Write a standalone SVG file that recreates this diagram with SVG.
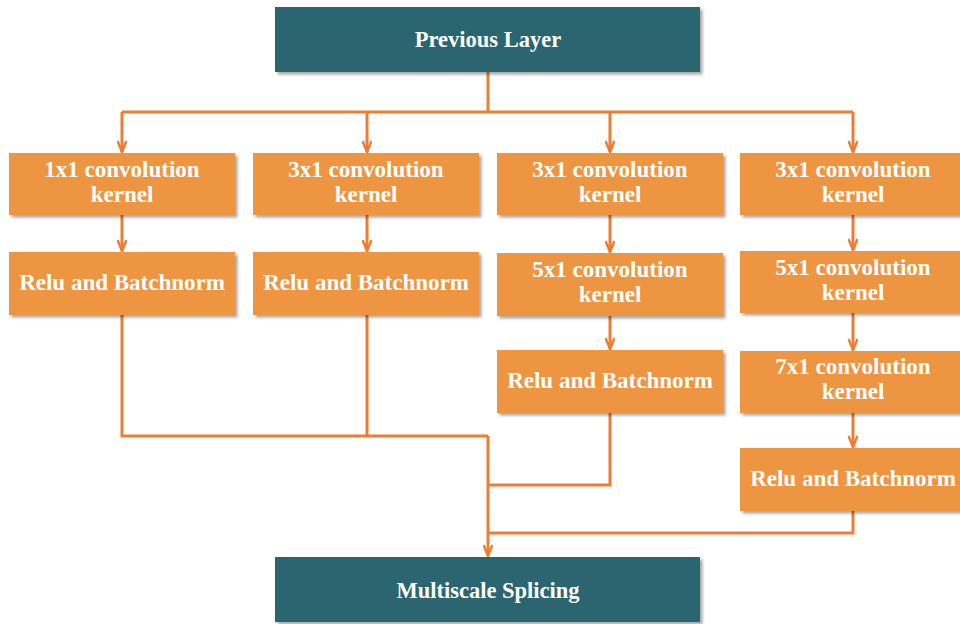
<svg xmlns="http://www.w3.org/2000/svg" width="960" height="624" viewBox="0 0 960 624">
<defs>
<style>
.box{fill:#EE9543;filter:url(#sh)}
.dark{fill:#2B6570;filter:url(#sh)}
.t{font-family:"Liberation Serif","Times New Roman",serif;font-weight:bold;font-size:23px;fill:#fff;text-anchor:middle}
.tl{font-size:22.5px}
.c{fill:none;stroke:#ED7D31;stroke-width:3}
.a{marker-end:url(#ah)}
</style>
<filter id="sh" x="-5%" y="-10%" width="115%" height="130%">
<feDropShadow dx="2.5" dy="2.5" stdDeviation="1.5" flood-color="#000" flood-opacity="0.35"/>
</filter>
<marker id="ah" viewBox="0 0 14 10" refX="12" refY="5" markerWidth="14" markerHeight="10" markerUnits="userSpaceOnUse" orient="auto">
<path d="M1,0.5 L12,5 L1,9.5" fill="none" stroke="#ED7D31" stroke-width="2.5"/>
</marker>
</defs>
<rect width="960" height="624" fill="#fff"/>
<g id="connectors">
<path class="c" d="M488,72 V112 M122,112 H853"/>
<path class="c a" d="M122,112 V152"/>
<path class="c a" d="M367,112 V152"/>
<path class="c a" d="M610,112 V152"/>
<path class="c a" d="M853,112 V152"/>
<path class="c a" d="M122,215 V251"/>
<path class="c a" d="M367,215 V251"/>
<path class="c a" d="M610,215 V252"/>
<path class="c a" d="M853,215 V250"/>
<path class="c a" d="M610,316 V349"/>
<path class="c a" d="M853,313 V350"/>
<path class="c a" d="M853,413 V447"/>
<path class="c" d="M122,315 V436 H488 M367,315 V436"/>
<path class="c" d="M610,413 V485 H488"/>
<path class="c" d="M853,511 V533 H488"/>
<path class="c a" d="M488,436 V556"/>
</g>
<g id="prev">
<rect class="dark" x="275" y="7" width="425" height="65"/>
<text class="t tl" x="488" y="47">Previous Layer</text>
</g>
<g id="c1k">
<rect class="box" x="9" y="153" width="226" height="62"/>
<text class="t" x="122" y="177">1x1 convolution</text>
<text class="t" x="122" y="202">kernel</text>
</g>
<g id="c2k">
<rect class="box" x="253" y="153" width="226" height="62"/>
<text class="t" x="366" y="177">3x1 convolution</text>
<text class="t" x="366" y="202">kernel</text>
</g>
<g id="c3k">
<rect class="box" x="497" y="153" width="226" height="62"/>
<text class="t" x="610" y="177">3x1 convolution</text>
<text class="t" x="610" y="202">kernel</text>
</g>
<g id="c4k">
<rect class="box" x="740" y="153" width="226" height="62"/>
<text class="t" x="853" y="177">3x1 convolution</text>
<text class="t" x="853" y="202">kernel</text>
</g>
<g id="c1r">
<rect class="box" x="9" y="252" width="226" height="63"/>
<text class="t" x="122" y="290">Relu and Batchnorm</text>
</g>
<g id="c2r">
<rect class="box" x="253" y="252" width="226" height="63"/>
<text class="t" x="366" y="290">Relu and Batchnorm</text>
</g>
<g id="c3k5">
<rect class="box" x="497" y="253" width="226" height="63"/>
<text class="t" x="610" y="277">5x1 convolution</text>
<text class="t" x="610" y="302">kernel</text>
</g>
<g id="c4k5">
<rect class="box" x="740" y="251" width="226" height="62"/>
<text class="t" x="853" y="275">5x1 convolution</text>
<text class="t" x="853" y="300">kernel</text>
</g>
<g id="c3r">
<rect class="box" x="497" y="350" width="226" height="63"/>
<text class="t" x="610" y="388">Relu and Batchnorm</text>
</g>
<g id="c4k7">
<rect class="box" x="740" y="351" width="226" height="62"/>
<text class="t" x="853" y="374">7x1 convolution</text>
<text class="t" x="853" y="399">kernel</text>
</g>
<g id="c4r">
<rect class="box" x="740" y="448" width="226" height="63"/>
<text class="t" x="853" y="486">Relu and Batchnorm</text>
</g>
<g id="multi">
<rect class="dark" x="275" y="557" width="425" height="65"/>
<text class="t tl" x="488" y="598">Multiscale Splicing</text>
</g>
</svg>
